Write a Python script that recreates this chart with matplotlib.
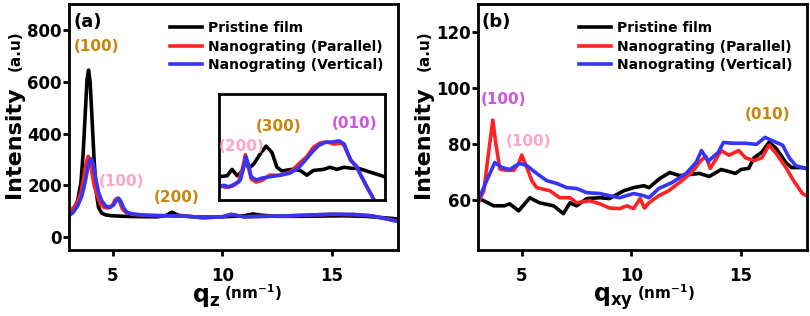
import numpy as np
from matplotlib import pyplot as plt

plt.rcParams['font.family'] = ['DejaVu Sans']
plt.rcParams['font.weight'] = 'bold'
plt.rcParams['mathtext.fontset'] = 'dejavusans'

ORANGE = '#C8860B'
MAGENTA = '#CC55DD'
PINK = '#FFA5C5'
BLACK = '#000000'
RED = '#FF2222'
BLUE = '#3535F5'
labels = ['Pristine film', 'Nanograting (Parallel)', 'Nanograting (Vertical)']

# (a) out-of-plane, q_z
qz_black = [3.0, 3.2, 3.4, 3.55, 3.65, 3.75, 3.83, 3.9, 3.97, 4.05, 4.15, 4.25, 4.35, 4.5, 4.7,
            5.0, 5.5, 6.0, 7.0, 7.4, 7.7, 8.0, 8.5, 9.0, 10.0, 10.5, 11.0, 11.4, 11.8, 12.5,
            13.5, 14.5, 15.5, 16.5, 17.3, 18.0]
int_black = [92, 105, 140, 210, 320, 480, 610, 645, 600, 470, 300, 175, 115, 92, 85,
             82, 80, 79, 78, 82, 96, 84, 79, 77, 78, 80, 82, 89, 84, 80,
             80, 81, 82, 80, 75, 70]
qz_red = [3.0, 3.2, 3.4, 3.55, 3.7, 3.8, 3.88, 3.95, 4.05, 4.15, 4.3, 4.45, 4.6, 4.8, 5.0,
          5.12, 5.22, 5.32, 5.45, 5.6, 5.9, 6.5, 7.5, 8.5, 9.1, 10.0, 10.4, 11.0, 12.0,
          13.0, 14.0, 15.0, 16.0, 16.8, 17.5, 18.0]
int_red = [98, 112, 135, 170, 240, 290, 312, 300, 250, 200, 160, 125, 115, 112, 125,
           145, 150, 135, 108, 95, 88, 84, 82, 80, 75, 78, 88, 78, 80,
           82, 85, 88, 87, 82, 70, 60]
qz_blue = [3.0, 3.2, 3.4, 3.6, 3.75, 3.87, 3.95, 4.03, 4.12, 4.22, 4.35, 4.5, 4.7, 4.9, 5.05,
           5.17, 5.27, 5.37, 5.5, 5.65, 6.0, 6.5, 7.5, 8.5, 9.1, 10.0, 10.4, 11.0, 12.0,
           13.0, 14.0, 15.0, 16.0, 16.8, 17.5, 18.0]
int_blue = [82, 95, 120, 160, 215, 270, 295, 303, 280, 230, 175, 140, 118, 115, 125,
            142, 150, 138, 112, 95, 88, 84, 82, 80, 74, 78, 87, 78, 80,
            82, 85, 88, 87, 82, 70, 60]

# inset of (a), arbitrary units
ins_x_black = [0, 0.05, 0.08, 0.11, 0.14, 0.16, 0.18, 0.21, 0.255, 0.285, 0.32, 0.35, 0.38,
               0.44, 0.49, 0.53, 0.57, 0.63, 0.67, 0.71, 0.755, 0.80, 0.84, 0.88, 0.94, 1.0]
ins_y_black = [0.22, 0.23, 0.29, 0.23, 0.27, 0.375, 0.30, 0.34, 0.45, 0.51, 0.45, 0.31, 0.275,
               0.29, 0.28, 0.235, 0.28, 0.29, 0.31, 0.29, 0.31, 0.30, 0.30, 0.28, 0.25, 0.22]
ins_x_red = [0, 0.04, 0.08, 0.12, 0.143, 0.16, 0.175, 0.195, 0.225, 0.265, 0.305, 0.37, 0.43,
             0.48, 0.53, 0.57, 0.61, 0.65, 0.694, 0.735, 0.755, 0.775, 0.795, 0.83, 0.855, 0.89, 0.93]
ins_y_red = [0.14, 0.12, 0.13, 0.17, 0.30, 0.43, 0.33, 0.20, 0.17, 0.19, 0.235, 0.235, 0.265,
             0.34, 0.41, 0.50, 0.54, 0.55, 0.53, 0.54, 0.515, 0.44, 0.375, 0.31, 0.235, 0.13, 0.015]
ins_x_blue = [0, 0.03, 0.06, 0.10, 0.13, 0.15, 0.163, 0.18, 0.195, 0.225, 0.265, 0.305, 0.37,
              0.43, 0.48, 0.52, 0.56, 0.60, 0.64, 0.685, 0.725, 0.755, 0.775, 0.795, 0.83,
              0.855, 0.89, 0.93]
ins_y_blue = [0.125, 0.14, 0.125, 0.155, 0.19, 0.31, 0.41, 0.33, 0.22, 0.19, 0.21, 0.22, 0.235,
              0.255, 0.305, 0.375, 0.45, 0.515, 0.545, 0.55, 0.56, 0.53, 0.45, 0.375, 0.32,
              0.235, 0.13, 0.015]

# (b) in-plane, q_xy
qxy_black = [2.95, 3.27, 3.72, 4.2, 4.45, 4.86, 5.37, 5.8, 6.45, 6.9, 7.2, 7.5, 7.97, 8.57,
             9.0, 9.66, 10.1, 10.57, 10.8, 11.3, 11.75, 12.2, 12.65, 13.1, 13.55, 14.1,
             14.75, 15.0, 15.35, 15.6, 15.95, 16.28, 16.6, 17.05, 17.3, 17.8, 18.1]
int_black_b = [60.7, 59.6, 57.8, 57.8, 58.5, 56.0, 60.7, 58.9, 57.8, 55.0, 58.9, 57.8, 60.4, 60.7,
               60.4, 63.2, 64.3, 65.0, 64.3, 67.6, 69.7, 68.6, 69.0, 69.4, 68.3, 70.8,
               69.4, 70.8, 71.2, 75.0, 77.0, 80.5, 78.4, 73.3, 71.5, 71.5, 71.0]
qxy_red = [2.95, 3.27, 3.5, 3.68, 3.8, 4.0, 4.3, 4.63, 4.86, 5.0, 5.23, 5.46, 5.68, 6.28, 6.73,
           7.2, 7.5, 8.1, 8.57, 9.0, 9.47, 9.8, 10.1, 10.4, 10.6, 10.8, 11.25, 11.7, 12.3,
           12.75, 13.17, 13.4, 13.6, 14.1, 14.45, 14.9, 15.2, 15.6, 15.95, 16.28, 16.6,
           17.05, 17.4, 17.8, 18.1]
int_red_b = [57.8, 63.2, 77.6, 88.5, 81.0, 71.0, 70.5, 70.5, 73.0, 76.0, 71.5, 66.8, 64.3, 63.2, 60.7,
             60.7, 58.9, 59.6, 58.5, 57.0, 56.8, 57.8, 56.8, 60.4, 57.0, 58.9, 61.4, 63.2, 66.8,
             69.7, 74.0, 75.5, 71.2, 77.6, 75.9, 77.6, 75.0, 74.0, 75.0, 79.5, 76.6,
             71.5, 66.8, 62.2, 61.0]
qxy_blue = [2.95, 3.4, 3.77, 4.1, 4.45, 4.9, 5.23, 5.68, 6.14, 6.6, 7.05, 7.5, 7.97, 8.57, 9.0,
            9.47, 10.1, 10.57, 10.8, 11.25, 11.85, 12.5, 12.95, 13.2, 13.5, 13.97, 14.2, 14.6,
            15.2, 15.7, 16.1, 16.4, 16.9, 17.2, 17.5, 17.9, 18.1]
int_blue_b = [58.5, 66.8, 73.3, 71.5, 70.8, 73.0, 72.2, 69.4, 66.8, 65.8, 64.3, 64.0, 62.5, 62.2, 61.4,
              60.7, 62.2, 61.4, 60.7, 64.0, 66.1, 69.4, 73.3, 77.6, 73.7, 77.0, 80.5, 80.2,
              80.2, 79.8, 82.3, 81.2, 79.5, 75.0, 72.2, 71.2, 71.0]

fig = plt.figure(figsize=(8.1, 3.16), dpi=100)
axa = fig.add_axes([0.085, 0.209, 0.406, 0.778])
axb = fig.add_axes([0.590, 0.209, 0.406, 0.778])

LW = 2.6
XLAB_Y = -0.21


def style(ax):
    for s in ax.spines.values():
        s.set_linewidth(2)
    ax.tick_params(direction='out', length=4, width=2, labelsize=12)
    ax.tick_params(axis='x', pad=8)
    ax.tick_params(axis='y', pad=1)
    for t in ax.get_xticklabels() + ax.get_yticklabels():
        t.set_fontweight('bold')


def legend(ax):
    ax.legend(loc='upper left', bbox_to_anchor=(0.307, 0.93), frameon=False,
              handlelength=2.3, handletextpad=0.45, labelspacing=0.32,
              borderpad=0, borderaxespad=0, prop={'weight': 'bold', 'size': 10})


qlabels = []


def axis_labels(ax, qtext, qx, ylx):
    qt = ax.text(qx, XLAB_Y, qtext, transform=ax.transAxes, fontsize=17, ha='left', va='baseline')
    qlabels.append((ax, qt))
    ax.text(ylx, 0.44, 'Intensity', transform=ax.transAxes, fontsize=16, rotation=90,
            rotation_mode='anchor', ha='center', va='baseline', fontweight='bold')
    ax.text(ylx, 0.81, '(a.u)', transform=ax.transAxes, fontsize=11, rotation=90,
            rotation_mode='anchor', ha='center', va='baseline', fontweight='bold')


# panel (a)
axa.plot(qz_black, int_black, color=BLACK, lw=LW, label=labels[0])
axa.plot(qz_red, int_red, color=RED, lw=LW, label=labels[1])
axa.plot(qz_blue, int_blue, color=BLUE, lw=LW, label=labels[2])
axa.set_xlim(3, 18)
axa.set_ylim(-50, 900)
axa.set_xticks([5, 10, 15])
axa.set_yticks([0, 200, 400, 600, 800])
style(axa)
legend(axa)
axa.text(0.015, 0.965, '(a)', transform=axa.transAxes, fontsize=13, ha='left', va='top')
axa.text(4.27, 735, '(100)', color=ORANGE, fontsize=11, ha='center', va='center')
axa.text(5.4, 215, '(100)', color=PINK, fontsize=11, ha='center', va='center')
axa.text(7.9, 153, '(200)', color=ORANGE, fontsize=11, ha='center', va='center')
axis_labels(axa, r'$\mathbf{q_z}$', 0.374, -0.150)

ins = axa.inset_axes([0.456, 0.203, 0.505, 0.43])
ins.plot(ins_x_black, ins_y_black, color=BLACK, lw=LW)
ins.plot(ins_x_red, ins_y_red, color=RED, lw=LW)
ins.plot(ins_x_blue, ins_y_blue, color=BLUE, lw=LW)
ins.set_xlim(0, 1)
ins.set_ylim(0, 1)
ins.set_xticks([])
ins.set_yticks([])
for s in ins.spines.values():
    s.set_linewidth(2)
ins.text(0.135, 0.51, '(200)', color=PINK, fontsize=11, ha='center', va='center', transform=ins.transAxes)
ins.text(0.36, 0.70, '(300)', color=ORANGE, fontsize=11, ha='center', va='center', transform=ins.transAxes)
ins.text(0.82, 0.72, '(010)', color=MAGENTA, fontsize=11, ha='center', va='center', transform=ins.transAxes)

# panel (b)
axb.plot(qxy_black, int_black_b, color=BLACK, lw=LW, label=labels[0])
axb.plot(qxy_red, int_red_b, color=RED, lw=LW, label=labels[1])
axb.plot(qxy_blue, int_blue_b, color=BLUE, lw=LW, label=labels[2])
axb.set_xlim(3, 18)
axb.set_ylim(42, 130)
axb.set_xticks([5, 10, 15])
axb.set_yticks([60, 80, 100, 120])
style(axb)
legend(axb)
axb.text(0.01, 0.965, '(b)', transform=axb.transAxes, fontsize=13, ha='left', va='top')
axb.text(4.15, 95.8, '(100)', color=MAGENTA, fontsize=11, ha='center', va='center')
axb.text(5.3, 80.8, '(100)', color=PINK, fontsize=11, ha='center', va='center')
axb.text(16.2, 90.4, '(010)', color=ORANGE, fontsize=11, ha='center', va='center')
axis_labels(axb, r'$\mathbf{q_{xy}}$', 0.35, -0.148)

# put "(nm-1)" right after the q label
fig.canvas.draw()
r = fig.canvas.get_renderer()
for ax, qt in qlabels:
    bb = qt.get_window_extent(r)
    x = ax.transAxes.inverted().transform((bb.x1 + 4, 0))[0]
    ax.text(x, XLAB_Y + 0.01, r'(nm$^{\mathbf{-1}}$)', transform=ax.transAxes, fontsize=11,
            ha='left', va='baseline', fontweight='bold')

fig.savefig('out.png', dpi=100)
